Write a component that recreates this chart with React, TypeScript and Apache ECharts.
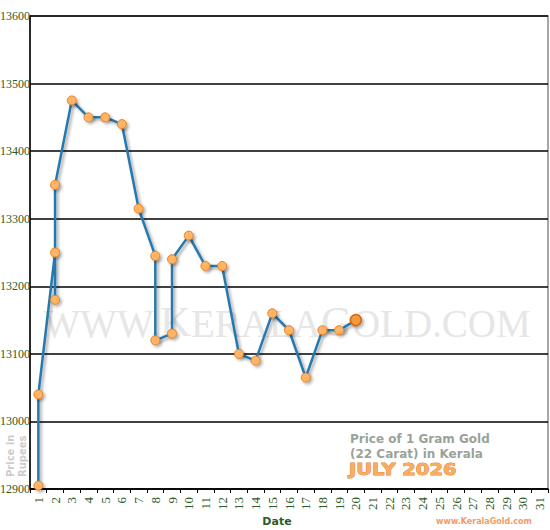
import React, { useEffect, useRef } from "react";
import * as echarts from "echarts";

const dateLabels = Array.from({ length: 31 }, (_, i) => String(i + 1));
const pointDays = [1, 1, 2, 2, 2, 3, 4, 5, 6, 7, 8, 8, 9, 9, 10, 11, 12, 13, 14, 15, 16, 17, 18, 19, 20];
const pointPrices = [
  12905, 13040, 13250, 13180, 13350, 13475, 13450, 13450, 13440, 13315, 13245, 13120, 13130, 13240,
  13275, 13230, 13230, 13100, 13090, 13160, 13135, 13065, 13135, 13135, 13150,
];
const yMin = 12900;
const yMax = 13600;
const yStep = 100;

const green = "#2d5a27";
const serif = "Liberation Serif";
const sans = "DejaVu Sans";

export default function App() {
  const ref = useRef<HTMLDivElement>(null);
  useEffect(() => {
    if (!ref.current) return;
    const chart = echarts.init(ref.current, null, { renderer: "svg" });
    const lastIdx = pointDays.length - 1;
    const data = pointDays.map((d, i) => {
      const v: any = { value: [d - 1, pointPrices[i]] };
      if (i === lastIdx) {
        v.symbolSize = 11;
        v.itemStyle = { color: "#f59a3e", borderColor: "#d9650c", borderWidth: 1.5 };
      }
      return v;
    });
    chart.setOption({
      animation: false,
      textStyle: { fontFamily: serif },
      grid: {
        left: 30,
        right: 2,
        top: 16,
        bottom: 41,
        outerBoundsMode: "none",
        containLabel: false,
        show: true,
        borderColor: "#8a8a8a",
        borderWidth: 1.5,
      },
      xAxis: {
        type: "category",
        data: dateLabels,
        boundaryGap: true,
        axisLine: { lineStyle: { color: "#000", width: 1.5 } },
        axisTick: { show: true, length: 4, lineStyle: { color: "#000" } },
        axisLabel: {
          rotate: 90,
          interval: 0,
          margin: 8,
          color: green,
          fontFamily: serif,
          fontSize: 13,
        },
        splitLine: { show: false },
      },
      yAxis: {
        type: "value",
        min: yMin,
        max: yMax,
        interval: yStep,
        axisLine: { show: true, lineStyle: { color: "#000", width: 1.5 } },
        axisTick: { show: false },
        axisLabel: {
          align: "left",
          margin: 30,
          color: green,
          fontFamily: serif,
          fontSize: 12,
          formatter: (v: number) => String(v),
        },
        splitLine: { show: true, lineStyle: { color: "#000", width: 1.5 } },
      },
      graphic: [
        {
          type: "text",
          z: 0,
          x: 287,
          y: 321,
          silent: true,
          style: {
            text: "{a|WWW.}{b|K}{a|ERALA}{b|G}{a|OLD.COM}",
            align: "center",
            verticalAlign: "middle",
            rich: {
              a: { fontFamily: serif, fontSize: 39, fill: "#e6e6e6", color: "#e6e6e6", verticalAlign: "bottom" },
              b: { fontFamily: serif, fontSize: 43, fill: "#e6e6e6", color: "#e6e6e6", verticalAlign: "bottom" },
            },
          },
        },
        {
          type: "text",
          x: 16,
          y: 477,
          rotation: Math.PI / 2,
          style: {
            text: "Price in\nRupees",
            align: "left",
            verticalAlign: "middle",
            lineHeight: 12,
            fontFamily: sans,
            fontWeight: "bold",
            fontSize: 10,
            fill: "#cccccc",
          },
        },
        {
          type: "text",
          x: 277,
          y: 521,
          style: {
            text: "Date",
            align: "center",
            verticalAlign: "middle",
            fontFamily: sans,
            fontWeight: "bold",
            fontSize: 11,
            fill: green,
          },
        },
        {
          type: "text",
          x: 350,
          y: 439,
          style: {
            text: "Price of 1 Gram Gold",
            align: "left",
            verticalAlign: "middle",
            fontFamily: sans,
            fontWeight: "bold",
            fontSize: 12,
            fill: "#9aa29a",
          },
        },
        {
          type: "text",
          x: 350,
          y: 454,
          style: {
            text: "(22 Carat) in Kerala",
            align: "left",
            verticalAlign: "middle",
            fontFamily: sans,
            fontWeight: "bold",
            fontSize: 12,
            fill: "#9aa29a",
          },
        },
        {
          type: "text",
          x: 349,
          y: 470,
          scaleX: 1.3,
          style: {
            text: "JULY 2026",
            align: "left",
            verticalAlign: "middle",
            fontFamily: sans,
            fontWeight: "bold",
            fontSize: 15,
            fill: "#f7ad62",
            stroke: "#ec7f1e",
            lineWidth: 0.8,
          },
        },
        {
          type: "text",
          x: 484,
          y: 521,
          style: {
            text: "www.KeralaGold.com",
            align: "center",
            verticalAlign: "middle",
            fontFamily: sans,
            fontWeight: "bold",
            fontSize: 8,
            fill: "#f29a66",
          },
        },
      ],
      series: [
        {
          type: "line",
          data,
          z: 5,
          clip: false,
          symbol: "circle",
          symbolSize: 9,
          showAllSymbol: true,
          lineStyle: {
            color: "#2779ae",
            width: 2.5,
            shadowColor: "rgba(0,0,0,0.35)",
            shadowBlur: 3,
            shadowOffsetX: 2,
            shadowOffsetY: 2,
          },
          itemStyle: {
            color: "#ffb466",
            borderColor: "#e8801e",
            borderWidth: 1,
            shadowColor: "rgba(0,0,0,0.3)",
            shadowBlur: 3,
            shadowOffsetX: 2,
            shadowOffsetY: 2,
          },
          emphasis: { disabled: true },
        },
      ],
    });
    return () => chart.dispose();
  }, []);
  return (
    <div
      ref={ref}
      style={{ position: "fixed", left: 0, top: 0, width: 550, height: 530, background: "#fff" }}
    />
  );
}
